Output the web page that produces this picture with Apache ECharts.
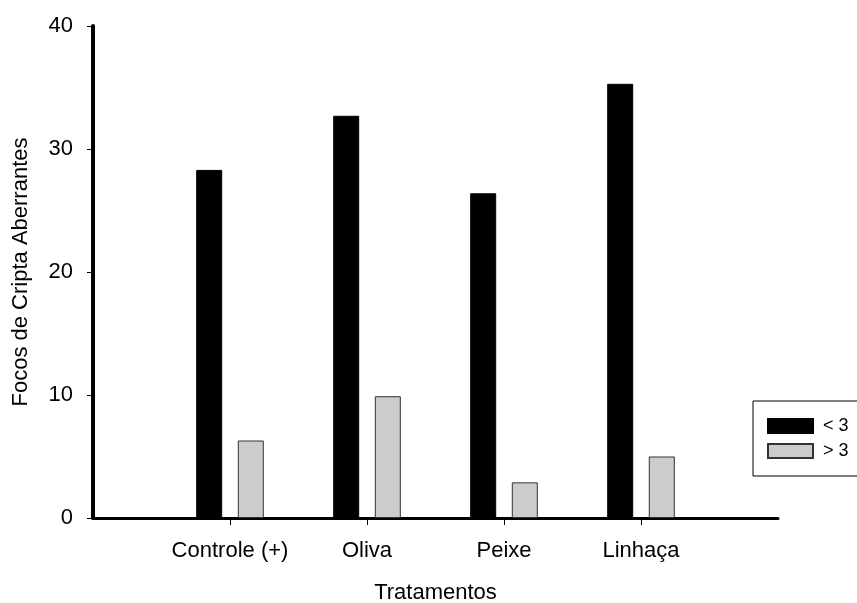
<!DOCTYPE html>
<html>
<head>
<meta charset="utf-8">
<script src="https://cdn.jsdelivr.net/npm/echarts@6/dist/echarts.min.js"></script>
<style>
html,body{margin:0;padding:0;background:#fff;}
#c{width:857px;height:603px;}
</style>
</head>
<body>
<div id="c"></div>
<script>
var categories = ["Controle (+)", "Oliva", "Peixe", "Linhaça"];
var lessThan3 = [28.3, 32.7, 26.4, 35.3];
var moreThan3 = [6.3, 9.9, 2.9, 5.0];
var yTicks = [0, 10, 20, 30, 40];
var seriesNames = ["< 3", "> 3"];

// pad with an empty slot on each side so the axis extends past the groups
var cats = [""].concat(categories, [""]);
var s1 = [null].concat(lessThan3, [null]);
var s2 = [null].concat(moreThan3, [null]);

var font = "Liberation Sans, Arial, sans-serif";
var chart = echarts.init(document.getElementById('c'));
chart.setOption({
  animation: false,
  backgroundColor: '#fff',
  grid: {left: 93, right: 79, top: 26, bottom: 85, containLabel: false, outerBoundsMode: 'none'},
  legend: {
    orient: 'vertical',
    left: 753, top: 401,
    padding: [16, 30, 16, 14],
    itemWidth: 45, itemHeight: 14, itemGap: 7,
    borderColor: '#000', borderWidth: 1,
    icon: 'rect',
    textStyle: {fontFamily: font, fontSize: 18, color: '#000', padding: [0,0,0,5]},
    data: seriesNames
  },
  xAxis: {
    type: 'category',
    data: cats,
    boundaryGap: false,
    name: 'Tratamentos',
    nameLocation: 'middle',
    nameGap: 64,
    nameTextStyle: {fontFamily: font, fontSize: 22, color: '#000'},
    axisLine: {lineStyle: {color: '#000', width: 3}},
    axisTick: {show: true, length: 7, lineStyle: {color: '#000', width: 1},
      interval: function (i) { return i > 0 && i < cats.length - 1; }},
    axisLabel: {fontFamily: font, fontSize: 22, color: '#000', margin: 22, interval: 0},
    splitLine: {show: false}
  },
  yAxis: {
    type: 'value',
    min: yTicks[0], max: yTicks[yTicks.length - 1], interval: 10,
    name: 'Focos de Cripta Aberrantes',
    nameLocation: 'middle',
    nameGap: 61,
    nameTextStyle: {fontFamily: font, fontSize: 22, color: '#000'},
    axisLine: {show: true, lineStyle: {color: '#000', width: 4}},
    axisTick: {show: true, length: 6, lineStyle: {color: '#000', width: 1}},
    axisLabel: {fontFamily: font, fontSize: 22, color: '#000', margin: 20},
    splitLine: {show: false}
  },
  series: [
    {name: seriesNames[0], type: 'bar', data: s1, barWidth: 26, barGap: '60%',
     itemStyle: {color: '#000', borderColor: '#000', borderWidth: 1}},
    {name: seriesNames[1], type: 'bar', data: s2, barWidth: 26,
     itemStyle: {color: '#cccccc', borderColor: '#333', borderWidth: 1}}
  ]
});
</script>
</body>
</html>
